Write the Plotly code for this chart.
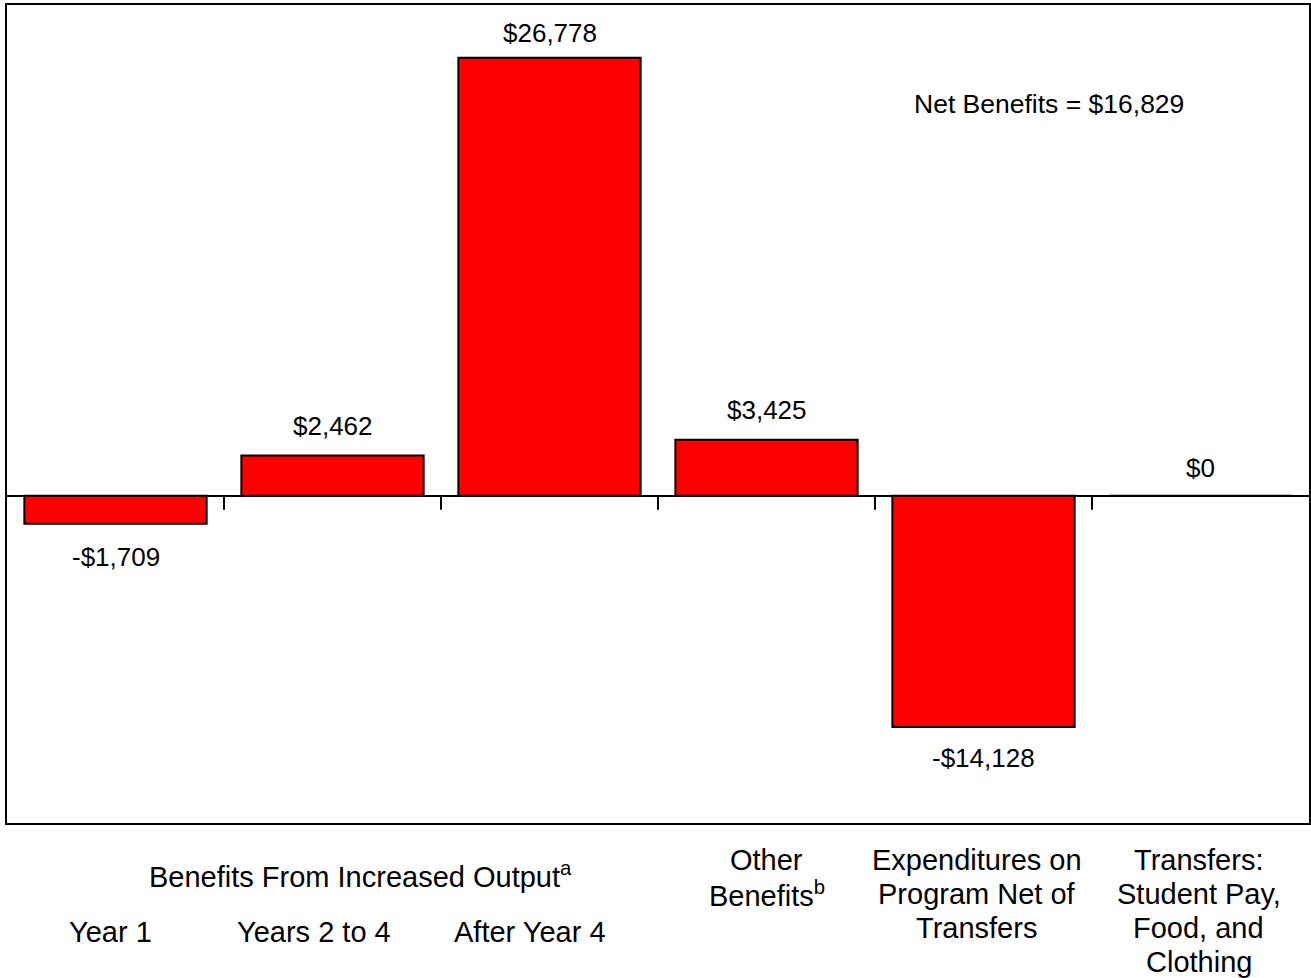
import plotly.graph_objects as go

categories = ["Year 1", "Years 2 to 4", "After Year 4", "Other Benefits",
              "Expenditures on Program Net of Transfers",
              "Transfers: Student Pay, Food, and Clothing"]
values = [-1709, 2462, 26778, 3425, -14128, 0]
net_benefits = 16829
cat_label_lines = [["Year 1"], ["Years 2 to 4"], ["After Year 4"],
                   ["Other", "Benefits<sup>b</sup>"],
                   ["Expenditures on", "Program Net of", "Transfers"],
                   ["Transfers:", "Student Pay,", "Food, and", "Clothing"]]
group_label = "Benefits From Increased Output<sup>a</sup>"

FONT = "Liberation Sans, Arial, sans-serif"
FS = 26     # value labels
FS_CAT = 29  # category labels


def money(v):
    return ("-" if v < 0 else "") + "${:,}".format(abs(v))


fig = go.Figure()
fig.add_trace(go.Bar(
    x=categories, y=values, width=0.84,
    marker=dict(color="#FF0000", line=dict(color="black", width=2)),
    hoverinfo="skip",
))

annotations = []
label_offsets = [33, 30, 25, 30, 31, 28]
for c, v, off in zip(categories, values, label_offsets):
    annotations.append(dict(
        x=c, y=v, xref="x", yref="y", text=money(v), showarrow=False,
        xanchor="center", yshift=off if v >= 0 else -off, yanchor="middle",
        font=dict(family=FONT, size=FS, color="black")))

annotations.append(dict(
    x=0.80, y=0.879, xref="paper", yref="paper", xanchor="center", yanchor="middle",
    text="Net Benefits = " + money(net_benefits), showarrow=False,
    font=dict(family=FONT, size=26.5, color="black")))

annotations.append(dict(
    x=0.2715, y=0, xref="paper", yref="paper", xanchor="center", yanchor="middle",
    yshift=-52, text=group_label, showarrow=False,
    font=dict(family=FONT, size=FS_CAT, color="black")))

shifts = [-5, -19, -20, 0, -7, -2]
first_line = [-109, -109, -109, -37, -37, -37]
LINE = 34
for c, lines, s, f in zip(categories, cat_label_lines, shifts, first_line):
    for i, ln in enumerate(lines):
        annotations.append(dict(
            x=c, y=0, xref="x", yref="paper", xanchor="center", yanchor="middle",
            xshift=s, yshift=f - i * LINE,
            text=ln, showarrow=False,
            font=dict(family=FONT, size=FS_CAT, color="black")))

shapes = []
for k in range(len(categories) - 1):
    shapes.append(dict(
        type="line", xref="x", yref="y", x0=k + 0.5, x1=k + 0.5,
        ysizemode="pixel", yanchor=0, y0=0, y1=-14,
        line=dict(color="black", width=2)))

fig.update_layout(
    width=1311, height=978,
    margin=dict(l=7, r=0, t=5, b=155),
    paper_bgcolor="white", plot_bgcolor="white",
    showlegend=False,
    annotations=annotations, shapes=shapes,
    font=dict(family=FONT, size=FS, color="black"),
    xaxis=dict(showticklabels=False, ticks="", showgrid=False,
               showline=True, mirror=True, linecolor="black", linewidth=2,
               zeroline=False),
    yaxis=dict(range=[-20000, 30000], showticklabels=False, ticks="",
               showgrid=False, showline=True, mirror=True,
               linecolor="black", linewidth=2,
               zeroline=True, zerolinecolor="black", zerolinewidth=2),
)

fig.write_html("out.html", config={"displayModeBar": False},
               post_script="document.body.style.margin='0';document.body.style.overflow='hidden';")
